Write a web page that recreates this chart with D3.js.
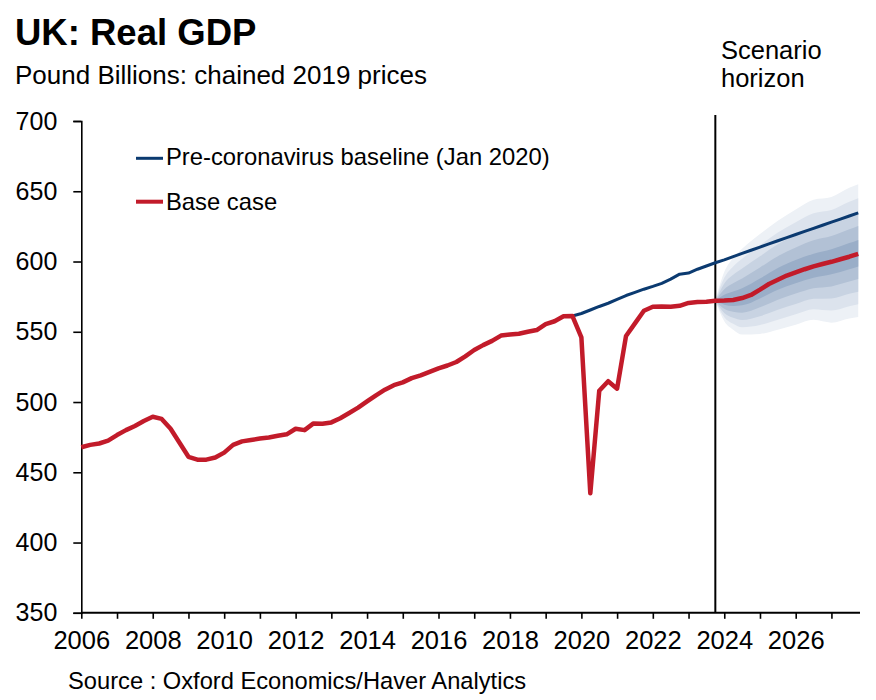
<!DOCTYPE html>
<html>
<head>
<meta charset="utf-8">
<script src="https://cdn.jsdelivr.net/npm/d3@7"></script>
<style>
  html, body { margin: 0; padding: 0; background: #fff; }
  svg { display: block; }
  text { font-family: Arial, "Liberation Sans", sans-serif; fill: #000; }
</style>
</head>
<body>
<svg id="chart" width="876" height="700"></svg>
<script>
// ---------- DATA ----------
const titleText = "UK: Real GDP";
const subtitleText = "Pound Billions: chained 2019 prices";
const sourceText = "Source : Oxford Economics/Haver Analytics";
const horizonLabel = ["Scenario", "horizon"];
const legendLabels = ["Pre-coronavirus baseline (Jan 2020)", "Base case"];

const yTicks = [350, 400, 450, 500, 550, 600, 650, 700];
const xTickYears = [2006, 2007, 2008, 2009, 2010, 2011, 2012, 2013, 2014, 2015, 2016,
                    2017, 2018, 2019, 2020, 2021, 2022, 2023, 2024, 2025, 2026, 2027];
const xLabelYears = [2006, 2008, 2010, 2012, 2014, 2016, 2018, 2020, 2022, 2024, 2026];
const scenarioHorizon = 2023.75;

// Base case, quarterly from 2006 Q1 to 2027 Q4
const baseStart = 2006.0;
const baseCase = [
  467.8, 469.5, 470.5, 472.5,   // 2006
  476.5, 480.0, 483.0, 486.5,   // 2007
  489.5, 488.0, 481.0, 471.0,   // 2008
  461.0, 459.0, 459.0, 460.5,   // 2009
  464.0, 469.5, 472.0, 473.0,   // 2010
  474.0, 474.8, 476.0, 477.0,   // 2011
  481.0, 480.0, 484.8, 484.5,   // 2012
  485.5, 488.5, 492.2, 496.0,   // 2013
  500.5, 504.8, 508.8, 512.0,   // 2014
  514.0, 517.0, 519.0, 521.5,   // 2015
  524.0, 526.0, 528.5, 532.5,   // 2016
  537.0, 540.5, 543.5, 547.3,   // 2017
  548.0, 548.6, 550.0, 551.2,   // 2018
  555.5, 557.5, 561.0, 561.2,   // 2019
  546.0, 435.0, 508.0, 514.8,   // 2020
  509.5, 547.0, 556.0, 565.0,   // 2021
  567.8, 568.0, 567.8, 568.5,   // 2022
  570.5, 571.2, 571.4, 572.0,   // 2023
  572.2, 572.6, 574.0, 576.2,   // 2024
  580.0, 584.0, 587.0, 590.0,   // 2025
  592.3, 594.5, 596.5, 598.2,   // 2026
  599.8, 601.6, 603.4, 605.5    // 2027
];

// Pre-coronavirus baseline, quarterly from 2019 Q4 to 2027 Q4
const baselineStart = 2019.75;
const preCovidBaseline = [
  561.2,                        // 2019 Q4
  563.0, 565.5, 568.0, 570.3,   // 2020
  573.0, 575.8, 578.0, 580.3,   // 2021
  582.3, 584.5, 587.5, 591.0,   // 2022
  591.8, 594.5, 596.8, 599.1,   // 2023
  601.2, 603.5, 605.8, 608.0,   // 2024
  610.3, 612.5, 614.8, 617.0,   // 2025
  619.2, 621.4, 623.6, 625.8,   // 2026
  628.0, 630.2, 632.4, 634.6    // 2027
];

// Scenario fan, band edges (outer to inner)
const fanTimes = [2023.75, 2024.0, 2024.25, 2024.5, 2025.0, 2025.5, 2026.0, 2026.5, 2027.0, 2027.5, 2027.75];
const fanUpper100 = [572, 592.5, 602.5, 609.0, 619.5, 629.0, 637.0, 644.0, 646.0, 652.5, 655.0];
const fanUpper80  = [572, 588.4, 596.5, 602.0, 611.6, 620.6, 628.0, 634.4, 636.7, 642.6, 645.1];
const fanUpper60  = [572, 584.4, 590.5, 595.0, 603.7, 612.2, 619.0, 624.8, 627.4, 632.8, 635.2];
const fanUpper40  = [572, 580.3, 584.6, 588.0, 595.8, 603.8, 610.0, 615.2, 618.1, 622.9, 625.3];
const fanUpper20  = [572, 576.3, 578.6, 581.0, 587.9, 595.4, 601.0, 605.6, 608.8, 613.1, 615.4];
const fanLower20  = [572, 569.3, 568.4, 568.8, 573.7, 579.9, 584.6, 588.5, 590.9, 594.5, 596.5];
const fanLower40  = [572, 566.3, 564.2, 563.6, 567.4, 572.8, 577.2, 581.0, 582.3, 585.7, 587.5];
const fanLower60  = [572, 563.4, 559.9, 558.4, 561.1, 565.7, 569.8, 573.5, 573.7, 577.0, 578.5];
const fanLower80  = [572, 560.4, 555.7, 553.2, 554.8, 558.6, 562.4, 566.0, 565.1, 568.2, 569.5];
const fanLower100 = [572, 557.5, 551.5, 548.0, 548.5, 551.5, 555.0, 558.5, 556.5, 559.5, 560.5];
const fanBands = [
  [fanLower100, fanUpper100],
  [fanLower80, fanUpper80],
  [fanLower60, fanUpper60],
  [fanLower40, fanUpper40],
  [fanLower20, fanUpper20]
];
const fanColors = ["#edf1f6", "#dce3ed", "#c8d3e2", "#b2c1d5", "#9aaec8"];

const colorBase = "#c21b2a";
const colorBaseline = "#0b3a70";

// ---------- LAYOUT ----------
const svg = d3.select("#chart");
const m = { left: 81.3, right: 860, top: 121, bottom: 612.8 };

const x = d3.scaleLinear().domain([2006, 2027.8]).range([m.left, m.right]);
const y = d3.scaleLinear().domain([350, 700]).range([m.bottom, m.top]);

// Fan
const fanG = svg.append("g");
fanBands.forEach((band, bi) => {
  const pts = fanTimes.map((t, i) => ({ t, lo: band[0][i], hi: band[1][i] }));
  fanG.append("path")
    .datum(pts)
    .attr("fill", fanColors[bi])
    .attr("d", d3.area()
      .x(d => x(d.t))
      .y0(d => y(d.lo))
      .y1(d => y(d.hi))
      .curve(d3.curveMonotoneX));
});

// Axes
const yAxis = d3.axisLeft(y).tickValues(yTicks).tickSize(8).tickPadding(16).tickFormat(d3.format("d"));
const yg = svg.append("g").attr("transform", `translate(${m.left},0)`).call(yAxis);
yg.select(".domain").attr("stroke", "#000").attr("stroke-width", 1.6);
yg.selectAll(".tick line").attr("stroke", "#000").attr("stroke-width", 1.6);
yg.selectAll(".tick text").style("font-size", "25px").attr("fill", "#000");

const xAxis = d3.axisBottom(x).tickValues(xTickYears).tickSize(6).tickPadding(12)
  .tickFormat(d => xLabelYears.includes(d) ? String(d) : "");
const xg = svg.append("g").attr("transform", `translate(0,${m.bottom})`).call(xAxis);
xg.select(".domain").attr("stroke", "#000").attr("stroke-width", 2).attr("d", `M${m.left},0H${m.right}`);
xg.selectAll(".tick line").attr("stroke", "#000").attr("stroke-width", 1.6);
xg.selectAll(".tick text").style("font-size", "25.5px").attr("fill", "#000");

// Scenario horizon line
svg.append("line")
  .attr("x1", x(scenarioHorizon)).attr("x2", x(scenarioHorizon))
  .attr("y1", 115).attr("y2", m.bottom)
  .attr("stroke", "#000").attr("stroke-width", 2);

// Lines
const baseLine = d3.line().x((d, i) => x(baseStart + i / 4)).y(d => y(d));
const blLine = d3.line().x((d, i) => x(baselineStart + i / 4)).y(d => y(d));

svg.append("path").datum(preCovidBaseline)
  .attr("fill", "none").attr("stroke", colorBaseline).attr("stroke-width", 3)
  .attr("stroke-linejoin", "round").attr("d", blLine);

svg.append("path").datum(baseCase)
  .attr("fill", "none").attr("stroke", colorBase).attr("stroke-width", 4.5)
  .attr("stroke-linejoin", "round").attr("d", baseLine);

// Titles
svg.append("text").attr("x", 15).attr("y", 45)
  .style("font-size", "36.5px").style("font-weight", "bold").text(titleText);
svg.append("text").attr("x", 15).attr("y", 84)
  .style("font-size", "26px").text(subtitleText);

// Scenario horizon label
svg.append("text").attr("x", 721).attr("y", 59).style("font-size", "25.5px").text(horizonLabel[0]);
svg.append("text").attr("x", 721).attr("y", 87).style("font-size", "25.5px").text(horizonLabel[1]);

// Legend
const legend = [
  { label: legendLabels[0], color: colorBaseline, w: 3, ly: 158.3, ty: 165 },
  { label: legendLabels[1], color: colorBase, w: 4, ly: 201.7, ty: 209.5 }
];
legend.forEach(l => {
  svg.append("line").attr("x1", 136).attr("x2", 163).attr("y1", l.ly).attr("y2", l.ly)
    .attr("stroke", l.color).attr("stroke-width", l.w);
  svg.append("text").attr("x", 166).attr("y", l.ty).style("font-size", "23.8px").text(l.label);
});

// Source
svg.append("text").attr("x", 68).attr("y", 689).style("font-size", "23.7px").text(sourceText);
</script>
</body>
</html>
